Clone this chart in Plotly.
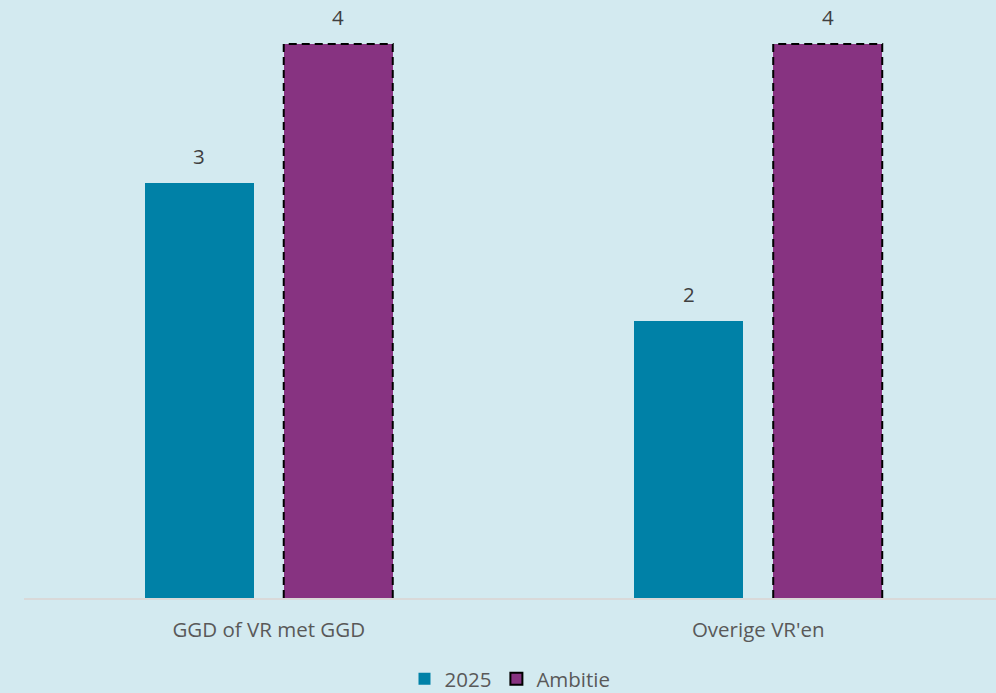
import plotly.graph_objects as go

categories = ["GGD of VR met GGD", "Overige VR'en"]
series_names = ["2025", "Ambitie"]
values_2025 = [3, 2]
values_ambitie = [4, 4]

teal = "#0081A7"
purple = "#873381"
bg = "#D3EAF0"
txt = "#404040"
txt2 = "#595959"
font_family = "Open Sans, Liberation Sans, sans-serif"
fsize = 20.5

bar_w = 0.2227
half_gap = 0.0306
xs = list(range(len(categories)))

fig = go.Figure()
fig.add_trace(go.Bar(
    x=xs, y=values_2025, name=series_names[0],
    width=bar_w, offset=-half_gap - bar_w,
    marker=dict(color=teal, line=dict(width=0)),
))
fig.add_trace(go.Bar(
    x=xs, y=values_ambitie, name=series_names[1], showlegend=False,
    width=bar_w, offset=half_gap,
    marker=dict(color=purple, line=dict(width=0)),
))
# legend-only entry with black border
fig.add_trace(go.Bar(
    x=[None], y=[None], name=series_names[1],
    marker=dict(color=purple, line=dict(color="black", width=2)),
))

# dashed outlines for ambition bars
ox, oy = [], []
for i, v in zip(xs, values_ambitie):
    x0, x1 = i + half_gap, i + half_gap + bar_w
    ox += [x0, x0, x1, x1, None]
    oy += [0, v, v, 0, None]
fig.add_trace(go.Scatter(
    x=ox, y=oy, mode="lines", showlegend=False, hoverinfo="skip",
    line=dict(color="black", width=2, dash="8px,5px"),
))

annotations = []
for i, v in zip(xs, values_2025):
    annotations.append(dict(x=i - half_gap - bar_w / 2, y=v, text=str(v), showarrow=False,
                            yanchor="bottom", yshift=11, font=dict(size=fsize, color=txt, family=font_family)))
for i, v in zip(xs, values_ambitie):
    annotations.append(dict(x=i + half_gap + bar_w / 2, y=v, text=str(v), showarrow=False,
                            yanchor="bottom", yshift=11, font=dict(size=fsize, color=txt, family=font_family)))

fig.update_layout(
    width=996, height=693,
    paper_bgcolor=bg, plot_bgcolor=bg,
    margin=dict(l=24, r=0, t=0, b=95, autoexpand=False),
    font=dict(family=font_family, size=fsize, color=txt2),
    showlegend=True,
    legend=dict(orientation="h", x=0.5, xanchor="center",
                yref="container", y=1 - 679 / 693, yanchor="middle",
                font=dict(size=fsize, color=txt2), bgcolor="rgba(0,0,0,0)",
                itemwidth=30, tracegroupgap=0),
    annotations=annotations,
    bargap=0, barmode="overlay",
)
fig.update_xaxes(
    range=[-0.5, 1.5 - 0.0143],
    tickvals=xs, ticktext=categories,
    showgrid=False, zeroline=False, automargin=False,
    showline=True, linecolor="#D9D9D9", linewidth=2,
    ticks="", ticklabelstandoff=12,
    tickfont=dict(size=fsize, color=txt2, family=font_family),
)
fig.update_yaxes(
    range=[0, 598 / 138.5],
    visible=False, showgrid=False, zeroline=False,
)

fig.write_html(
    "out.html",
    config={"displayModeBar": False},
    post_script="document.body.style.margin='0';document.body.style.overflow='hidden';"
                "document.body.style.background='" + bg + "';",
)
